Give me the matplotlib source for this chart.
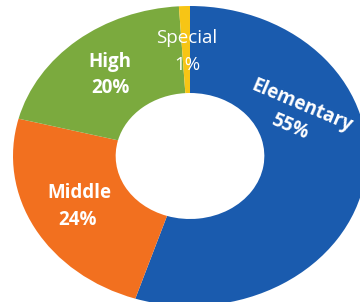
import matplotlib
matplotlib.use("Agg")
import matplotlib.pyplot as plt

# data
categories = ["Elementary", "Middle", "High", "Special"]
shares = [55, 24, 20, 1]
colors = ["#1A5BAE", "#F2701F", "#7BAA3E", "#F7C515"]

plt.rcParams['font.family'] = ['Open Sans', 'DejaVu Sans']

fig = plt.figure(figsize=(3.6, 3.02), dpi=100)
ax = fig.add_axes([0, 0, 1, 1])

wedges, _ = ax.pie(shares, colors=colors, startangle=90, counterclock=False,
                   radius=1.0, wedgeprops=dict(width=0.58, linewidth=0))

# the original picture is stretched sideways, so drop the equal aspect
ax.set_aspect('auto')
cx, cy = 190, 156          # centre in pixels (top-left origin)
rx, ry = 177, 150          # outer radius in pixels
ax.set_xlim(-cx / rx, (360 - cx) / rx)
ax.set_ylim(-(302 - cy) / ry, cy / ry)
ax.axis('off')

# label placement (pixel centres, top-left origin), rotation, weight
label_pos = {
    "Elementary": ((302, 106), (290, 127), -23, 'bold'),
    "Middle": ((79, 193), (78, 220), 0, 'bold'),
    "High": ((110, 62), (110, 88), 0, 'bold'),
    "Special": ((187, 38), (187, 65), 0, 'normal'),
}

for name, val in zip(categories, shares):
    (p1, p2, rot, wt) = label_pos[name]
    for (px, py), txt in ((p1, name), (p2, f"{val}%")):
        ax.text(px / 360, 1 - py / 302, txt, transform=ax.transAxes,
                ha='center', va='center', color='white', fontsize=13.5,
                fontweight=wt, rotation=rot)

fig.savefig("out.png", dpi=100)
